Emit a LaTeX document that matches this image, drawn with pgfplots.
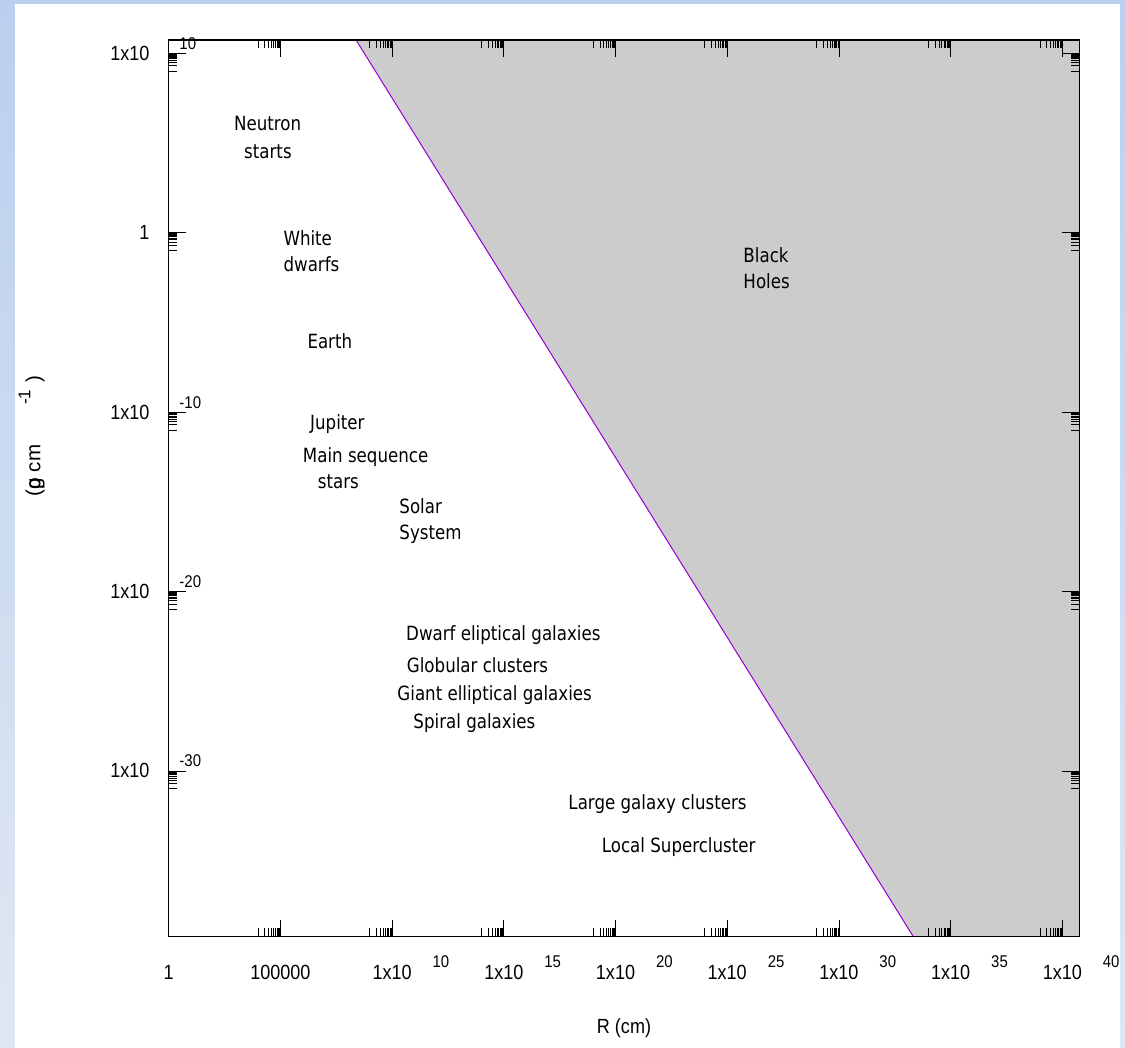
\documentclass[border=0pt]{standalone}
\usepackage{fontspec}
\usepackage{pgfplots}
\pgfplotsset{compat=1.18}
\setmainfont{Liberation Sans}[FakeStretch=0.88]
\newfontfamily\annfont{DejaVu Sans}[FakeStretch=0.85]
\newfontfamily\ylfont{Liberation Sans}
\definecolor{bhgray}{RGB}{204,204,204}
\definecolor{bhline}{RGB}{148,0,211}
\definecolor{bgtop}{RGB}{186,208,238}
\definecolor{bgbot}{RGB}{224,231,242}
\newcommand{\supf}{\fontsize{17}{17}\selectfont}
\newcommand{\xsup}[1]{1x10\rlap{\hspace{21pt}\smash{\raisebox{12pt}{\supf #1}}}}
\newcommand{\ysup}[1]{1x10\rlap{\hspace{30pt}\smash{\raisebox{11pt}{\supf #1}}}}
\begin{document}
\begin{tikzpicture}[x=1pt,y=1pt]
\useasboundingbox (0,0) rectangle (1125,1048);
\shade[top color=bgtop, bottom color=bgbot] (0,0) rectangle (1125,1048);
\fill[white] (15,0) rectangle (1120,1044);
\begin{axis}[
  at={(168.7pt,111.3pt)}, anchor=south west,
  scale only axis, width=910.6pt, height=896.7pt,
  xmode=log, ymode=log,
  xmin=1, xmax=5.75e40, ymin=5.75e-40, ymax=5.5e10,
  axis on top,
  axis line style={black, line width=1.2pt},
  tick align=inside,
  major tick length=17pt, minor tick length=8.5pt,
  every tick/.style={black, line width=0.8pt},
  xtick={1,1e5,1e10,1e15,1e20,1e25,1e30,1e35,1e40},
  xticklabels={1,100000,\xsup{10},\xsup{15},\xsup{20},\xsup{25},\xsup{30},\xsup{35},\xsup{40}},
  minor xtick={1e4,2e4,3e4,4e4,5e4,6e4,7e4,8e4,9e4,
    1e9,2e9,3e9,4e9,5e9,6e9,7e9,8e9,9e9,
    1e14,2e14,3e14,4e14,5e14,6e14,7e14,8e14,9e14,
    1e19,2e19,3e19,4e19,5e19,6e19,7e19,8e19,9e19,
    1e24,2e24,3e24,4e24,5e24,6e24,7e24,8e24,9e24,
    1e29,2e29,3e29,4e29,5e29,6e29,7e29,8e29,9e29,
    1e34,2e34,3e34,4e34,5e34,6e34,7e34,8e34,9e34,
    1e39,2e39,3e39,4e39,5e39,6e39,7e39,8e39,9e39},
  ytick={1e-30,1e-20,1e-10,1,1e10},
  yticklabels={\ysup{-30},\ysup{-20},\ysup{-10},1,\ysup{10}},
  minor ytick={1e9,2e9,3e9,4e9,5e9,6e9,7e9,8e9,9e9,
    0.1,0.2,0.3,0.4,0.5,0.6,0.7,0.8,0.9,
    1e-11,2e-11,3e-11,4e-11,5e-11,6e-11,7e-11,8e-11,9e-11,
    1e-21,2e-21,3e-21,4e-21,5e-21,6e-21,7e-21,8e-21,9e-21,
    1e-31,2e-31,3e-31,4e-31,5e-31,6e-31,7e-31,8e-31,9e-31},
  xticklabel style={font=\fontsize{20.5}{24}\selectfont, anchor=north, inner sep=0pt, yshift=-28.3pt},
  yticklabel style={font=\fontsize{20.5}{24}\selectfont, anchor=east, inner sep=0pt, xshift=-19pt},
  xlabel={R (cm)},
  xlabel style={font=\fontsize{20.5}{24}\selectfont, at={(axis description cs:0.5,-0.1085)}, anchor=base, inner sep=0pt},
  ylabel={(\rlap{ρ}g cm\hspace{40pt}\smash{\raisebox{10pt}{\supf -1}}\hspace{7pt})},
  ylabel style={font=\ylfont\fontsize{20.5}{24}\selectfont, at={(axis description cs:-0.1468,0.5584)}, anchor=center, inner sep=0pt},
]
\addplot[fill=bhgray, draw=none] coordinates {(2.43e8,5.5e10) (2.14e33,5.75e-40) (5.75e40,5.75e-40) (5.75e40,5.5e10)} --cycle;
\addplot[color=bhline, line width=1pt] coordinates {(2.43e8,5.5e10) (2.14e33,5.75e-40)};
\begin{scope}[every node/.style={anchor=base west, inner sep=0pt, font=\annfont\fontsize{19.6}{24}\selectfont}]
\node at (rel axis cs:0.0717,0.8989) {Neutron};
\node at (rel axis cs:0.0827,0.8681) {starts};
\node at (rel axis cs:0.1259,0.7706) {White};
\node at (rel axis cs:0.1259,0.7416) {dwarfs};
\node at (rel axis cs:0.1522,0.6562) {Earth};
\node at (rel axis cs:0.1552,0.5659) {Jupiter};
\node at (rel axis cs:0.1472,0.5291) {Main sequence};
\node at (rel axis cs:0.1636,0.5001) {stars};
\node at (rel axis cs:0.2532,0.4722) {Solar};
\node at (rel axis cs:0.2532,0.4432) {System};
\node at (rel axis cs:0.2606,0.3298) {Dwarf eliptical galaxies};
\node at (rel axis cs:0.2614,0.2944) {Globular clusters};
\node at (rel axis cs:0.2510,0.2632) {Giant elliptical galaxies};
\node at (rel axis cs:0.2686,0.2324) {Spiral galaxies};
\node at (rel axis cs:0.4388,0.1421) {Large galaxy clusters};
\node at (rel axis cs:0.4755,0.0941) {Local Supercluster};
\node at (rel axis cs:0.6310,0.7516) {Black};
\node at (rel axis cs:0.6310,0.7231) {Holes};
\end{scope}
\end{axis}
\end{tikzpicture}
\end{document}
